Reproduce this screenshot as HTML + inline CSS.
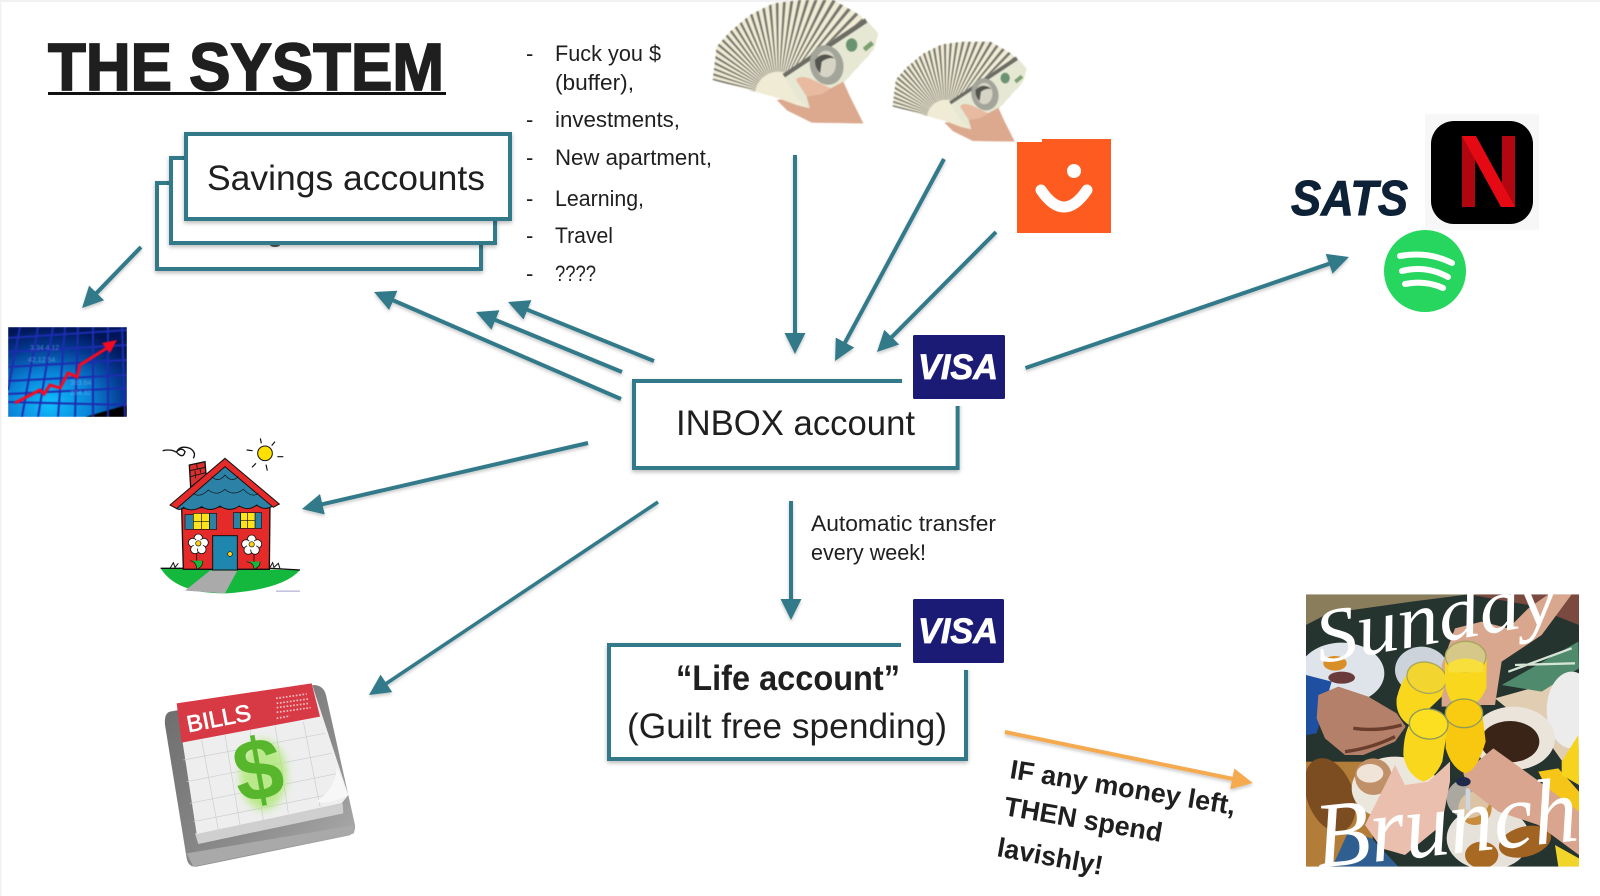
<!DOCTYPE html>
<html lang="en">
<head>
<meta charset="utf-8">
<title>The System</title>
<style>
html,body{margin:0;padding:0;background:#fff;width:1600px;height:896px;overflow:hidden}
svg{display:block}
text{font-family:"Liberation Sans",sans-serif;fill:#1f1f1f}
</style>
</head>
<body>
<svg xmlns="http://www.w3.org/2000/svg" width="1600" height="896" viewBox="0 0 1600 896">
<defs>
  <marker id="ht" markerUnits="userSpaceOnUse" markerWidth="24" markerHeight="24" viewBox="0 -12 24 24" refX="11" refY="0" orient="auto"><path d="M0,-10.500 L21,0 L0,10.500 Z" fill="#307a8a"/></marker>
  <marker id="ho" markerUnits="userSpaceOnUse" markerWidth="24" markerHeight="24" viewBox="0 -12 24 24" refX="11" refY="0" orient="auto"><path d="M0,-10.500 L21,0 L0,10.500 Z" fill="#f5aa50"/></marker>
  <filter id="sh" x="-10%" y="-10%" width="120%" height="125%"><feDropShadow dx="0" dy="2" stdDeviation="2" flood-color="#000" flood-opacity=".28"/></filter>
  <filter id="ash" x="-20%" y="-20%" width="140%" height="140%"><feDropShadow dx="0" dy="2" stdDeviation="1.500" flood-color="#000" flood-opacity=".22"/></filter>
  <filter id="b2" x="-40%" y="-40%" width="180%" height="180%"><feGaussianBlur stdDeviation="12"/></filter>
  <clipPath id="fanclip"><polygon points="38,240 50,140 90,95 150,45 220,10 300,0 400,0 480,45 535,100 520,150 420,260 330,325 290,315 250,300 220,290"/></clipPath>
  <clipPath id="brclip"><rect x="33" y="28" width="819" height="817"/></clipPath>
  <clipPath id="chclip"><rect x="8" y="327" width="119" height="90"/></clipPath>
  <radialGradient id="chg" cx="35%" cy="85%" r="85%"><stop offset="0" stop-color="#10c0ff"/><stop offset=".4" stop-color="#0a84d8"/><stop offset=".75" stop-color="#04388f"/><stop offset="1" stop-color="#011658"/></radialGradient>
  <linearGradient id="bg1" x1="0" y1="0" x2="1" y2="1"><stop offset="0" stop-color="#6b6b6b"/><stop offset=".6" stop-color="#8a8a8a"/><stop offset="1" stop-color="#b0b0b0"/></linearGradient>
  <g id="money">
    <path d="M230,300 L262,332 L335,368 L490,370 L450,290 L428,245 L392,265 L350,245 L320,290 Z" fill="#dca98f"/>
    <polygon points="38,240 50,140 90,95 150,45 220,10 300,0 400,0 480,45 535,100 520,150 420,260 330,325 290,315 250,300 220,290" fill="#f0ebd4"/>
    <g clip-path="url(#fanclip)">
      <circle cx="235" cy="285" r="205" fill="none" stroke="#77776f" stroke-width="270" stroke-dasharray="6 10"/>
      <circle cx="235" cy="285" r="55" fill="#f0ebd4"/>
    </g>
    <polygon points="222,250 250,240 330,325 290,315 225,290" fill="#f0ebd4"/>
    <polygon points="248,222 495,55 535,100 520,150 420,260 330,325 295,300" fill="#e6e8d3"/>
    <polygon points="248,222 495,55 502,68 255,232" fill="#6d6d66"/>
    <ellipse cx="380" cy="195" rx="50" ry="60" fill="#a3a59a" transform="rotate(-15 380 195)"/>
    <ellipse cx="378" cy="192" rx="30" ry="40" fill="#d6d4c4"/>
    <path d="M345,180 Q370,150 405,175 Q385,170 365,185 L360,220 Q345,205 345,180 Z" fill="#55554f"/>
    <ellipse cx="455" cy="135" rx="17" ry="20" fill="#6a9372"/>
    <rect x="490" y="132" width="32" height="14" fill="#7ba06e" transform="rotate(-40 505 140)"/>
    <path d="M288,240 Q300,222 340,240 L392,265 L365,282 L320,290 Z" fill="#e8bba1"/>
    <path d="M320,290 L365,282 L392,265 L430,245 L450,290 L490,370 L345,368 L330,325 Z" fill="#dca98f"/>
  </g>
</defs>

<rect width="1600" height="896" fill="#fff"/>
<rect width="1600" height="2" fill="#f1f1f1"/>
<rect width="1.500" height="896" fill="#f1f1f1"/>

<!-- title -->
<text x="48" y="90" font-size="67" font-weight="700" textLength="396" lengthAdjust="spacingAndGlyphs" stroke="#1f1f1f" stroke-width="1.800">THE SYSTEM</text>
<rect x="48" y="92" width="398" height="3" fill="#111"/>

<!-- savings stack -->
<rect x="157" y="183" width="324" height="86" fill="#fff" stroke="#307a8a" stroke-width="4" filter="url(#sh)"/>
<ellipse cx="275" cy="245" rx="5" ry="2" fill="#555"/>
<rect x="171" y="158" width="324" height="85" fill="#fff" stroke="#307a8a" stroke-width="4" filter="url(#sh)"/>
<rect x="186" y="134" width="324" height="85" fill="#fff" stroke="#307a8a" stroke-width="4" filter="url(#sh)"/>
<text x="207" y="190" font-size="35" textLength="278" lengthAdjust="spacingAndGlyphs">Savings accounts</text>

<!-- list -->
<g font-size="22">
  <text x="526" y="61">-</text><text x="555" y="61" textLength="106" lengthAdjust="spacingAndGlyphs">Fuck you $</text>
  <text x="555" y="90" textLength="79" lengthAdjust="spacingAndGlyphs">(buffer),</text>
  <text x="526" y="127">-</text><text x="555" y="127" textLength="125" lengthAdjust="spacingAndGlyphs">investments,</text>
  <text x="526" y="165">-</text><text x="555" y="165" textLength="157" lengthAdjust="spacingAndGlyphs">New apartment,</text>
  <text x="526" y="206">-</text><text x="555" y="206" textLength="89" lengthAdjust="spacingAndGlyphs">Learning,</text>
  <text x="526" y="243">-</text><text x="555" y="243" textLength="58" lengthAdjust="spacingAndGlyphs">Travel</text>
  <text x="526" y="281">-</text><text x="555" y="281" textLength="41" lengthAdjust="spacingAndGlyphs">????</text>
</g>

<!-- money -->
<g style="filter:blur(.5px)">
  <g transform="translate(700,0) scale(.3333)"><use href="#money"/></g>
  <g transform="translate(700,0) scale(.3333) translate(547,125) scale(.81)"><use href="#money"/></g>
</g>

<!-- vipps -->
<path d="M1017,142 L1042,142 L1042,139 L1111,139 L1111,233 L1017,233 Z" fill="#fe5b20"/>
<circle cx="1074" cy="171" r="7" fill="#fff"/>
<path d="M1041,190 Q1064,224 1087,190" fill="none" stroke="#fff" stroke-width="11" stroke-linecap="round"/>

<!-- SATS / Netflix / Spotify -->
<text x="1291" y="215" font-size="49" font-weight="700" font-style="italic" textLength="117" lengthAdjust="spacingAndGlyphs" style="fill:#0d2137" stroke="#0d2137" stroke-width="1">SATS</text>
<rect x="1425" y="114" width="114" height="116" fill="#f7f7f7"/>
<rect x="1431" y="121" width="102" height="103" rx="23" fill="#000"/>
<rect x="1462" y="136" width="13" height="71" fill="#b00610"/>
<rect x="1502" y="136" width="13" height="71" fill="#b20710"/>
<polygon points="1462,136 1476,136 1515,207 1501,207" fill="#e50914"/>
<circle cx="1425" cy="271" r="41" fill="#26d65f"/>
<g fill="none" stroke="#fff" stroke-width="6" stroke-linecap="round">
  <path d="M1400,256 Q1428,251 1452,263"/>
  <path d="M1402,271 Q1426,265 1448,277"/>
  <path d="M1405,284 Q1425,280 1443,288"/>
</g>

<!-- inbox box -->
<rect x="634" y="381" width="323.600" height="87" fill="#fff" stroke="#307a8a" stroke-width="4" filter="url(#sh)"/>
<rect x="902" y="328" width="112" height="78" fill="#fff"/>
<rect x="913" y="335" width="92" height="64" rx="1.500" fill="#1b1a75"/>
<text x="918" y="379" font-size="35" font-weight="700" font-style="italic" textLength="80" lengthAdjust="spacingAndGlyphs" style="fill:#fff" stroke="#fff" stroke-width=".8">VISA</text>
<text x="676" y="435" font-size="35" textLength="239" lengthAdjust="spacingAndGlyphs">INBOX account</text>

<!-- life box -->
<rect x="609" y="645" width="357" height="114" fill="#fff" stroke="#307a8a" stroke-width="4" filter="url(#sh)"/>
<rect x="901" y="594" width="112" height="76" fill="#fff"/>
<rect x="913" y="599" width="91" height="64" rx="1.500" fill="#1b1a75"/>
<text x="918" y="643" font-size="35" font-weight="700" font-style="italic" textLength="80" lengthAdjust="spacingAndGlyphs" style="fill:#fff" stroke="#fff" stroke-width=".8">VISA</text>
<text x="676" y="690" font-size="35" font-weight="700" textLength="224" lengthAdjust="spacingAndGlyphs">“Life account”</text>
<text x="627" y="738" font-size="35" textLength="320" lengthAdjust="spacingAndGlyphs">(Guilt free spending)</text>

<text x="811" y="531" font-size="22" textLength="185" lengthAdjust="spacingAndGlyphs">Automatic transfer</text>
<text x="811" y="560" font-size="22" textLength="115" lengthAdjust="spacingAndGlyphs">every week!</text>

<!-- rotated note -->
<g font-size="27" font-weight="700">
  <text transform="translate(1009,778) rotate(9.300)" textLength="228" lengthAdjust="spacingAndGlyphs">IF any money left,</text>
  <text transform="translate(1003,815) rotate(9.700)" textLength="160" lengthAdjust="spacingAndGlyphs">THEN spend</text>
  <text transform="translate(996,856) rotate(10.200)" textLength="107" lengthAdjust="spacingAndGlyphs">lavishly!</text>
</g>

<!-- arrows -->
<g stroke="#307a8a" stroke-width="4" fill="none" filter="url(#ash)">
  <line x1="141" y1="247" x2="89" y2="300.800" marker-end="url(#ht)"/>
  <line x1="654" y1="361" x2="517.300" y2="305.700" marker-end="url(#ht)"/>
  <line x1="622" y1="372" x2="485.300" y2="315.800" marker-end="url(#ht)"/>
  <line x1="621" y1="399" x2="383.200" y2="296" marker-end="url(#ht)"/>
  <line x1="795" y1="155" x2="795" y2="344" marker-end="url(#ht)"/>
  <line x1="944" y1="159" x2="839.800" y2="352.200" marker-end="url(#ht)"/>
  <line x1="996" y1="232" x2="884" y2="344.900" marker-end="url(#ht)"/>
  <line x1="1025.500" y1="368" x2="1339.500" y2="260.200" marker-end="url(#ht)"/>
  <line x1="588" y1="443" x2="311.700" y2="506.700" marker-end="url(#ht)"/>
  <line x1="658" y1="502" x2="377.300" y2="689.500" marker-end="url(#ht)" stroke-width="3.500"/>
  <line x1="791" y1="501" x2="791" y2="610" marker-end="url(#ht)"/>
  <line x1="1005" y1="732" x2="1243" y2="781" marker-end="url(#ho)" stroke="#f5aa50"/>
</g>

<!-- chart -->
<g clip-path="url(#chclip)" style="filter:blur(.4px)">
  <rect x="8" y="327" width="119" height="90" fill="url(#chg)"/>
  <polygon points="85,417 127,405 127,417" fill="#000"/>
  <g stroke="#1c2db0" stroke-width="2" fill="none">
    <path d="M8,338 L127,330 M8,352 L127,345 M8,367 L127,360 M8,381 L127,375 M8,394 L127,388 M8,402 L127,405"/>
    <path d="M20,327 L8,390 M38,327 L22,417 M53,327 L38,417 M65,327 L58,417 M78,327 L75,417 M93,327 L93,417 M108,327 L108,417 M122,327 L125,417"/>
  </g>
  <g font-size="7" opacity=".45" style="font-family:'Liberation Mono',monospace">
    <text x="30" y="350" style="fill:#9fd8ff">3.34 4.12</text>
    <text x="28" y="362" style="fill:#9fd8ff">42.12 54</text>
    <text x="70" y="385" style="fill:#9fd8ff">383.64</text>
    <text x="70" y="395" style="fill:#9fd8ff">234.32</text>
  </g>
  <polyline points="15,403 40,390 44,394 50,385 60,388 68,373 77,377 80,365 107,348" fill="none" stroke="#f60a22" stroke-width="3"/>
  <polygon points="102,343 117,340 110,353" fill="#f60a22"/>
</g>

<!-- house -->
<g transform="translate(150,430) scale(.33333)" style="filter:blur(.3px)">
  <path d="M32,415 L450,420 Q400,478 230,490 Q80,492 32,415 Z" fill="#14b83c"/>
  <path d="M32,415 L100,415 M360,415 L450,420" stroke="#111" stroke-width="4"/>
  <polygon points="180,422 262,422 225,490 105,482" fill="#aaa"/>
  <polygon points="118,105 165,95 168,135 122,172" fill="#d93030" stroke="#111" stroke-width="4"/>
  <path d="M120,122 L166,112 M121,140 L167,128 M140,102 L142,118 M150,116 L152,128 M135,122 L137,145" stroke="#111" stroke-width="2.500" fill="none"/>
  <polygon points="95,235 360,225 358,418 100,418" fill="#e52a2a" stroke="#111" stroke-width="4"/>
  <path d="M75,232 L225,100 L372,226 Q345,245 320,225 Q295,245 268,228 Q240,248 210,228 Q182,248 155,230 Q125,248 100,232 Q88,245 75,232 Z" fill="#2c82a6" stroke="#111" stroke-width="3"/>
  <polygon points="60,225 225,85 388,222 370,232 225,110 80,236" fill="#e52a2a" stroke="#111" stroke-width="3"/>
  <path d="M185,140 Q205,160 225,135 Q245,160 265,140 M130,190 Q150,205 175,180 Q200,200 225,178 Q250,200 280,178 Q305,205 325,190" fill="none" stroke="#111" stroke-width="2"/>
  <rect x="105" y="254" width="25" height="44" fill="#2c82a6" stroke="#111" stroke-width="2"/>
  <rect x="178" y="250" width="22" height="48" fill="#2c82a6" stroke="#111" stroke-width="2"/>
  <rect x="130" y="250" width="48" height="48" fill="#ffe21a" stroke="#111" stroke-width="2"/>
  <path d="M154,250 V298 M130,274 H178" stroke="#111" stroke-width="2"/>
  <rect x="250" y="248" width="22" height="47" fill="#2c82a6" stroke="#111" stroke-width="2"/>
  <rect x="315" y="248" width="20" height="47" fill="#2c82a6" stroke="#111" stroke-width="2"/>
  <rect x="272" y="248" width="43" height="47" fill="#ffe21a" stroke="#111" stroke-width="2"/>
  <path d="M293,248 V295 M272,271 H315" stroke="#111" stroke-width="2"/>
  <rect x="188" y="317" width="74" height="103" fill="#1f87ad" stroke="#111" stroke-width="3"/>
  <circle cx="240" cy="372" r="7" fill="#ffd21a" stroke="#111" stroke-width="2"/>
  <path d="M140,370 V412 M312,372 V412" stroke="#111" stroke-width="2.500"/>
  <g fill="#fff" stroke="#111" stroke-width="2.500">
    <circle cx="145" cy="325" r="13"/><circle cx="128" cy="338" r="13"/><circle cx="162" cy="338" r="13"/><circle cx="135" cy="358" r="13"/><circle cx="155" cy="358" r="13"/>
    <circle cx="305" cy="328" r="13"/><circle cx="288" cy="342" r="13"/><circle cx="322" cy="342" r="13"/><circle cx="295" cy="360" r="13"/><circle cx="315" cy="360" r="13"/>
  </g>
  <circle cx="145" cy="342" r="14" fill="#fff"/><circle cx="305" cy="345" r="14" fill="#fff"/>
  <circle cx="145" cy="340" r="8" fill="#ffd21a" stroke="#111" stroke-width="2"/>
  <circle cx="305" cy="343" r="8" fill="#ffd21a" stroke="#111" stroke-width="2"/>
  <path d="M120,392 Q140,395 140,418 Q160,410 158,392 M290,395 Q312,398 312,418 Q332,410 330,395" fill="#14b83c" stroke="#111" stroke-width="2"/>
  <path d="M60,415 L70,398 L75,412 L85,400 M360,412 L368,398 L372,412 L385,400 L390,416" fill="none" stroke="#111" stroke-width="3"/>
  <circle cx="345" cy="70" r="22" fill="#ffe000" stroke="#111" stroke-width="3"/>
  <path d="M331,25 L334,40 M375,35 L365,47 M290,60 L308,62 M382,80 L400,80 M306,112 L318,100 M348,104 L352,122" stroke="#111" stroke-width="3.500"/>
  <path d="M38,62 Q70,55 85,72 Q100,85 105,65 Q95,50 80,65 Q90,45 120,55 Q140,68 130,85" fill="none" stroke="#111" stroke-width="4"/>
  <rect x="378" y="481" width="72" height="5" fill="#c4c4de"/>
</g>

<!-- bills -->
<g transform="translate(150,670) scale(.33333)" style="filter:blur(.3px)">
  <path d="M60,125 L490,45 Q520,45 528,75 L615,465 Q618,490 595,497 L140,590 Q115,592 110,565 L45,165 Q42,130 60,125 Z" fill="url(#bg1)"/>
  <polygon points="110,550 615,465 612,490 130,590" fill="#a9a9a9"/>
  <polygon points="135,490 578,400 580,430 145,522" fill="#cfcfcf"/>
  <polygon points="80,100 485,40 595,375 575,400 140,492" fill="#eeeeee"/>
  <g stroke="#c9ced1" stroke-width="2" fill="none">
    <path d="M100,270 L525,190 M110,335 L545,250 M120,400 L565,310 M130,455 L580,365"/>
    <path d="M155,210 L205,480 M225,195 L270,465 M300,180 L340,450 M375,165 L415,430 M460,155 L510,410"/>
  </g>
  <polygon points="80,100 485,40 510,140 95,218" fill="#d83a45"/>
  <text transform="translate(115,187) rotate(-11)" font-size="70" textLength="195" lengthAdjust="spacingAndGlyphs" style="fill:#fff" stroke="#fff" stroke-width="2">BILLS</text>
  <g stroke="#f5c0c4" stroke-width="5" stroke-dasharray="5 5">
    <path d="M378,85 L470,72 M380,100 L474,87 M380,113 L478,100 M380,127 L482,113 M380,145 L420,138"/>
  </g>
  <ellipse cx="340" cy="315" rx="70" ry="105" fill="#a9e86a" opacity=".75" filter="url(#b2)"/>
  <text transform="translate(268,400) rotate(-10)" font-size="262" font-weight="700" style="fill:#58b62d">$</text>
  <path d="M595,375 Q540,405 500,395 Q560,350 560,290 Z" fill="#f7f7f7"/>
</g>

<!-- brunch -->
<g transform="translate(1295,585) scale(.33333)" clip-path="url(#brclip)" style="filter:blur(.4px)">
  <rect x="33" y="28" width="819" height="817" fill="#25342f"/>
  <polygon points="33,28 520,28 350,50 100,85 33,120" fill="#8a7d5c"/>
  <polygon points="520,28 852,28 852,120 700,60" fill="#7a4a40"/>
  <ellipse cx="140" cy="265" rx="128" ry="92" fill="#dfe3ea"/>
  <ellipse cx="120" cy="235" rx="35" ry="22" fill="#d88f28"/>
  <ellipse cx="140" cy="278" rx="40" ry="18" fill="#6b3b3b"/>
  <ellipse cx="380" cy="255" rx="80" ry="70" fill="#cdd3da"/>
  <polygon points="33,270 110,290 65,445 33,450" fill="#1f4fa0"/>
  <polygon points="600,340 852,270 852,600 760,470" fill="#e0cdb2"/>
  <polygon points="620,300 850,170 852,250 740,320" fill="#4f8a6c"/>
  <path d="M640,260 L830,190 M660,240 L840,235" stroke="#d6e4d6" stroke-width="7"/>
  <ellipse cx="830" cy="375" rx="75" ry="115" fill="#ececec"/>
  <ellipse cx="655" cy="460" rx="125" ry="95" fill="#eae4da"/>
  <ellipse cx="645" cy="470" rx="88" ry="62" fill="#3a2418"/>
  <rect x="33" y="530" width="200" height="315" fill="#b27d38"/>
  <ellipse cx="105" cy="630" rx="70" ry="115" fill="#7d4d22" transform="rotate(-20 105 630)"/>
  <ellipse cx="300" cy="610" rx="130" ry="95" fill="#ece7dc"/>
  <ellipse cx="235" cy="575" rx="55" ry="55" fill="#c09068"/>
  <ellipse cx="225" cy="565" rx="40" ry="28" fill="#f0e4d8"/>
  <ellipse cx="580" cy="760" rx="125" ry="95" fill="#e6e2da"/>
  <ellipse cx="540" cy="670" rx="50" ry="50" fill="#c98b3c"/>
  <ellipse cx="560" cy="810" rx="50" ry="40" fill="#a86a22"/>
  <ellipse cx="690" cy="770" rx="80" ry="45" fill="#a06322" transform="rotate(-15 690 770)"/>
  <polygon points="730,560 790,550 852,620 852,680 770,640" fill="#f5c518"/>
  <polygon points="800,530 850,450 852,600 800,570" fill="#f6d31c"/>
  <polygon points="780,780 852,820 852,845 790,845" fill="#f2d52a"/>
  <polygon points="70,330 130,305 220,335 305,385 332,425 300,470 205,510 150,510 90,460 65,400" fill="#b5806a"/>
  <path d="M150,500 Q230,490 300,455 M175,430 Q250,440 320,420" stroke="#6a3d2c" stroke-width="10" fill="none"/>
  <polygon points="440,240 480,130 560,110 640,130 700,70 760,28 830,28 740,150 620,230 600,360 565,360 440,365" fill="#d8a78e"/>
  <ellipse cx="520" cy="640" rx="65" ry="60" fill="#e4dccf" opacity=".7"/>
  <rect x="512" y="610" width="14" height="65" fill="#cfd6dc"/>
  <polygon points="505,565 595,490 720,580 852,680 852,810 730,720 610,680 520,610" fill="#d9a58e"/>
  <polygon points="210,720 300,540 330,600 400,590 465,530 465,590 440,720 330,810 260,790" fill="#ebbfae"/>
  <polygon points="112,845 160,740 230,760 310,845" fill="#2e5f90"/>
  <ellipse cx="505" cy="590" rx="22" ry="14" fill="#1f2a4a"/>
  <g>
    <path d="M340,262 L455,280 L440,335 Q400,375 345,422 Q300,395 305,340 Q315,295 340,262 Z" fill="#f9d71c"/>
    <ellipse cx="395" cy="278" rx="60" ry="46" fill="#f2d52e" stroke="#a8a55e" stroke-width="4" transform="rotate(15 395 278)"/>
    <path d="M450,215 L575,215 L574,310 Q545,375 490,372 Q455,345 450,290 Z" fill="#f9d71c"/>
    <ellipse cx="512" cy="215" rx="61" ry="46" fill="#d6c888" stroke="#a8a55e" stroke-width="4"/>
    <path d="M460,235 Q510,205 565,235 L566,262 L460,262 Z" fill="#f9df3c"/>
    <path d="M452,385 L562,385 L572,470 Q545,560 510,565 Q470,550 452,490 Z" fill="#f7c80f"/>
    <ellipse cx="507" cy="385" rx="56" ry="43" fill="#f9cc12" stroke="#8e9a5a" stroke-width="4"/>
    <path d="M345,415 L458,425 L442,530 Q420,580 385,590 Q335,570 325,510 Q325,450 345,415 Z" fill="#f9d71c"/>
    <ellipse cx="401" cy="417" rx="58" ry="45" fill="#fbdf20" stroke="#8e9a5a" stroke-width="4" transform="rotate(5 401 417)"/>
  </g>
  <text transform="translate(75,235) rotate(-10)" font-size="230" font-style="italic" textLength="730" lengthAdjust="spacingAndGlyphs" style="font-family:'Liberation Serif',serif;fill:#fff">Sunday</text>
  <text transform="translate(70,848) rotate(-6)" font-size="280" font-style="italic" textLength="790" lengthAdjust="spacingAndGlyphs" style="font-family:'Liberation Serif',serif;fill:#fff">Brunch</text>
</g>
</svg>
</body>
</html>
